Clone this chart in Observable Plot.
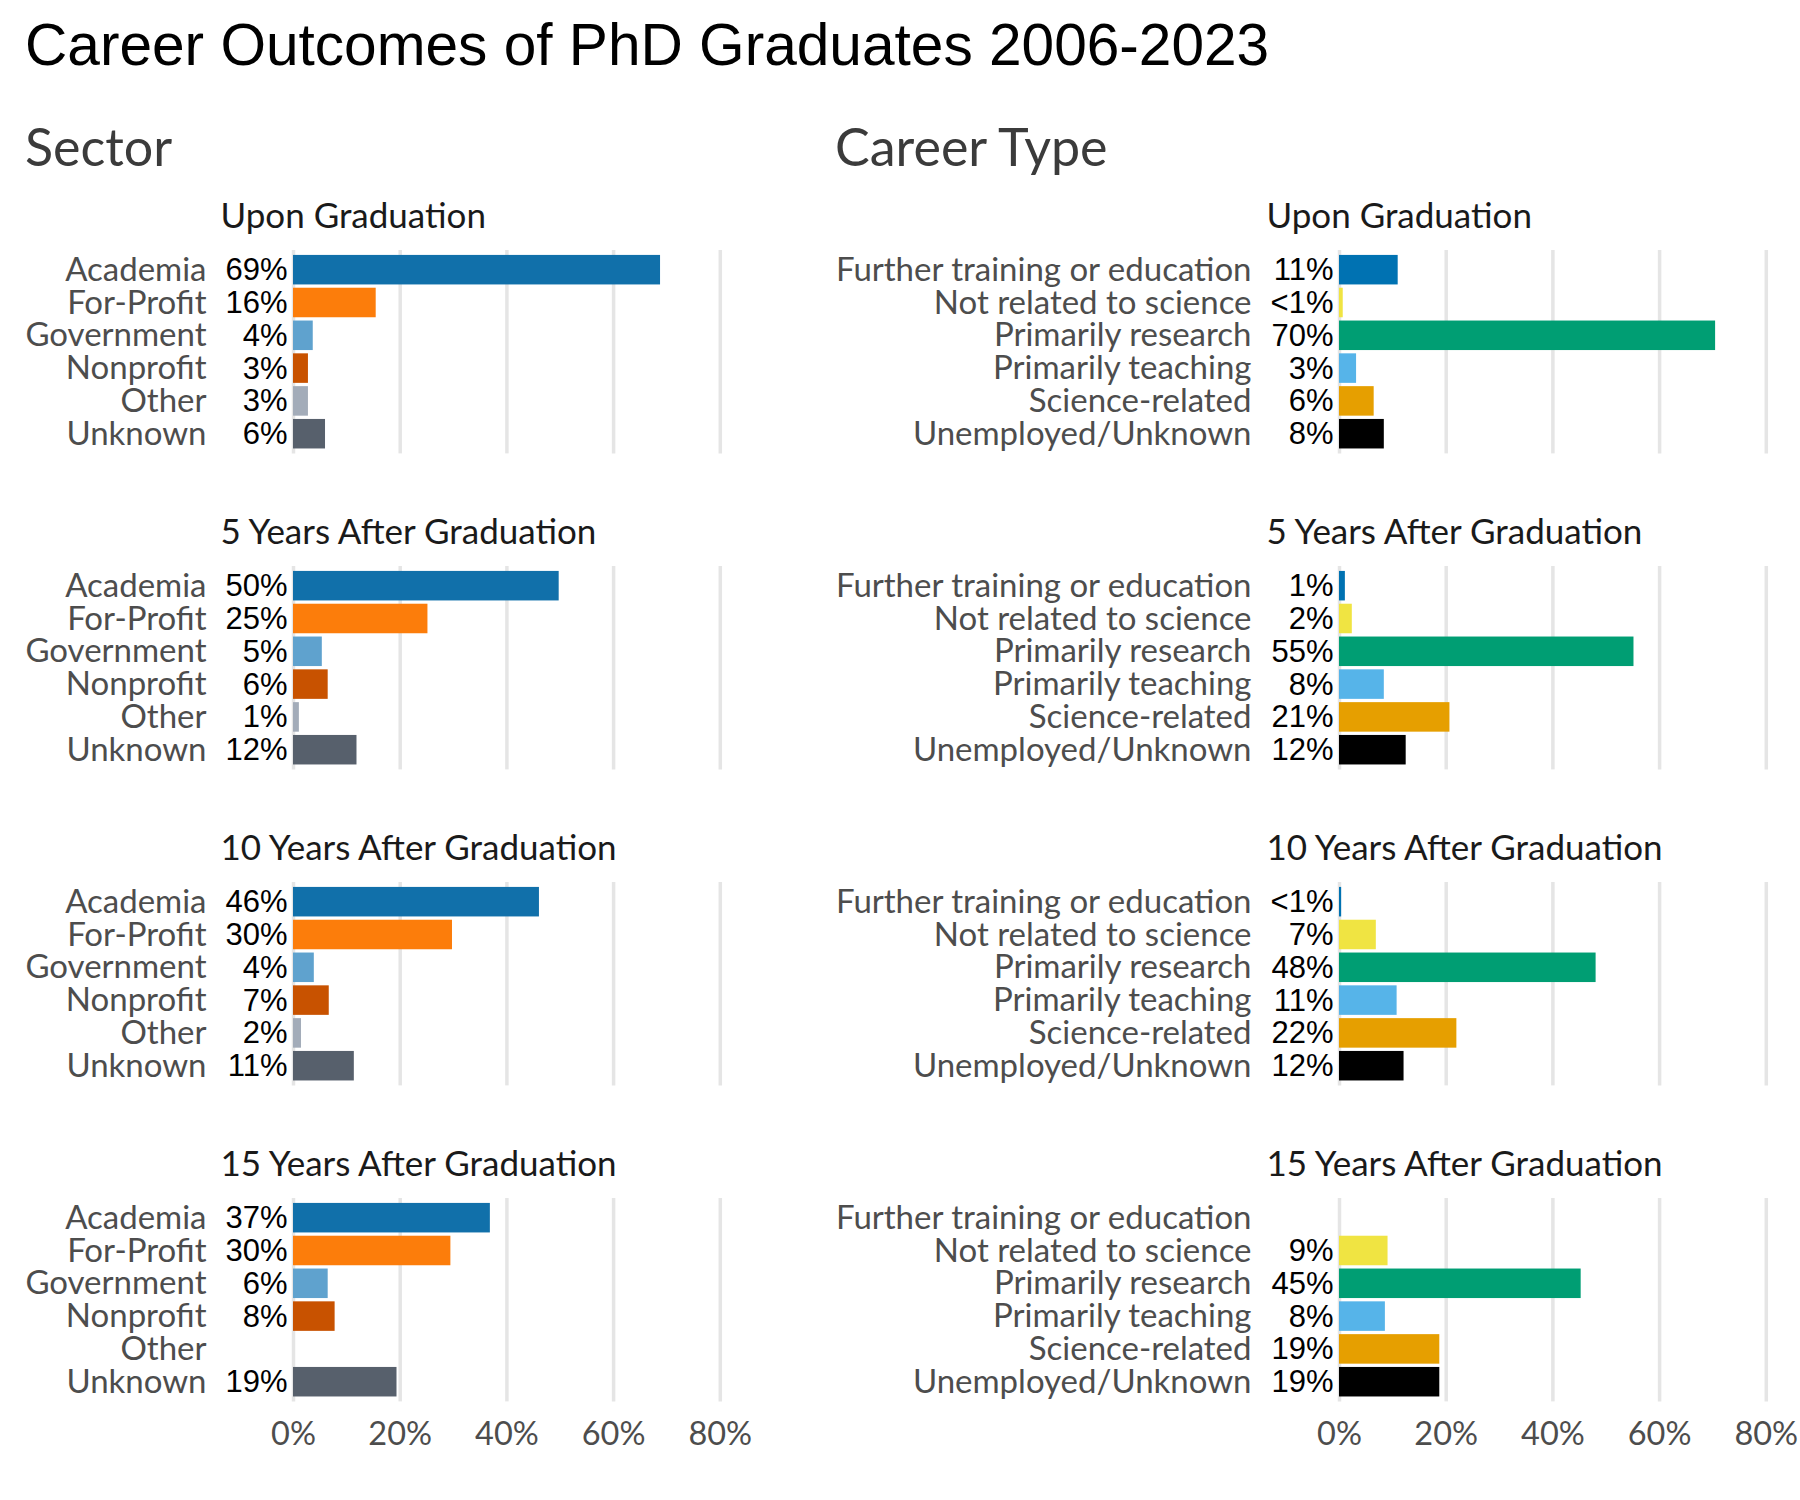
<!DOCTYPE html>
<html>
<head>
<meta charset="utf-8">
<script src="https://cdn.jsdelivr.net/npm/d3@7"></script>
<script src="https://cdn.jsdelivr.net/npm/@observablehq/plot@0.6"></script>
<style>
  html, body { margin: 0; padding: 0; background: #ffffff; }
  #page { position: relative; width: 1800px; height: 1500px; background: #ffffff; overflow: hidden; }
  .abs { position: absolute; white-space: nowrap; line-height: 1; }
  #title { font-family: "Liberation Sans", Arial, sans-serif; font-size: 58.6px; color: #000; }
  .section { font-family: "Lato", sans-serif; font-size: 52px; color: #3b3b3b; }
  .panel { position: absolute; }
</style>
</head>
<body>
<div id="page">
  <div id="title" class="abs" style="left:25px; top:16.4px;">Career Outcomes of PhD Graduates 2006-2023</div>
  <div class="abs section" style="left:25px; top:119.5px;">Sector</div>
  <div class="abs section" style="left:835px; top:119.5px;">Career Type</div>
</div>
<script>
// ---------- data ----------
const periods = ["Upon Graduation", "5 Years After Graduation", "10 Years After Graduation", "15 Years After Graduation"];

const sectorCategories = ["Academia", "For-Profit", "Government", "Nonprofit", "Other", "Unknown"];
const sectorColors = ["#1170aa", "#fc7d0b", "#5fa2ce", "#c85200", "#a3acb9", "#57606c"];
const sectorUpon = [68.8, 15.5, 3.7, 2.8, 2.8, 6.0];
const sectorUponLabels = ["69%", "16%", "4%", "3%", "3%", "6%"];
const sector5 = [49.8, 25.2, 5.4, 6.5, 1.1, 11.9];
const sector5Labels = ["50%", "25%", "5%", "6%", "1%", "12%"];
const sector10 = [46.1, 29.8, 3.9, 6.7, 1.5, 11.4];
const sector10Labels = ["46%", "30%", "4%", "7%", "2%", "11%"];
const sector15 = [36.9, 29.5, 6.5, 7.8, null, 19.4];
const sector15Labels = ["37%", "30%", "6%", "8%", "", "19%"];

const careerCategories = ["Further training or education", "Not related to science", "Primarily research", "Primarily teaching", "Science-related", "Unemployed/Unknown"];
const careerColors = ["#0072b2", "#f0e442", "#009e73", "#56b4e9", "#e69f00", "#000000"];
const careerUpon = [11.0, 0.7, 70.5, 3.2, 6.5, 8.4];
const careerUponLabels = ["11%", "<1%", "70%", "3%", "6%", "8%"];
const career5 = [1.1, 2.4, 55.2, 8.4, 20.7, 12.5];
const career5Labels = ["1%", "2%", "55%", "8%", "21%", "12%"];
const career10 = [0.4, 6.9, 48.1, 10.8, 22.0, 12.1];
const career10Labels = ["<1%", "7%", "48%", "11%", "22%", "12%"];
const career15 = [null, 9.1, 45.3, 8.6, 18.8, 18.8];
const career15Labels = ["", "9%", "45%", "8%", "19%", "19%"];

const xTicks = [0, 20, 40, 60, 80];

// ---------- layout ----------
const panelW = 900;
const plotH = 203.4;
const mTop = 60;
const firstPanelTop = 250.3;
const rowStep = 316;
const xSpan = 426.8;

const columns = [
  {left: 0, marginLeft: 293, pad: 87, cats: sectorCategories, colors: sectorColors,
   values: [sectorUpon, sector5, sector10, sector15],
   labels: [sectorUponLabels, sector5Labels, sector10Labels, sector15Labels]},
  {left: 900, marginLeft: 439, pad: 88, cats: careerCategories, colors: careerColors,
   values: [careerUpon, career5, career10, career15],
   labels: [careerUponLabels, career5Labels, career10Labels, career15Labels]}
];

const page = document.getElementById("page");

columns.forEach(col => {
  periods.forEach((period, i) => {
    const isLast = i === periods.length - 1;
    const mBottom = isLast ? 70 : 10;
    const rows = col.cats.map((c, j) => ({cat: c, value: col.values[i][j], label: col.labels[i][j]}));
    const present = rows.filter(d => d.value != null);
    const chart = Plot.plot({
      width: panelW,
      height: mTop + plotH + mBottom,
      marginTop: mTop,
      marginBottom: mBottom,
      marginLeft: col.marginLeft,
      marginRight: panelW - col.marginLeft - xSpan,
      style: {fontFamily: "Lato, sans-serif", fontSize: "33px", color: "#4d4d4d", background: "transparent", overflow: "visible"},
      x: {domain: [0, 80], axis: isLast ? "bottom" : null, ticks: xTicks, tickSize: 0, tickPadding: 20,
          tickFormat: d => d + "%", label: null, fontSize: 32.5},
      y: {domain: col.cats, axis: "left", tickSize: 0, tickPadding: col.pad, label: null,
          paddingInner: 0.1, paddingOuter: 0.15, round: false},
      color: {domain: col.cats, range: col.colors},
      marks: [
        Plot.ruleX(xTicks, {stroke: "#e5e5e5", strokeWidth: 3.5}),
        Plot.barX(present, {x: "value", y: "cat", fill: "cat"}),
        Plot.text(present, {x: 0, y: "cat", text: "label", textAnchor: "end", dx: -6,
          fontFamily: "Liberation Sans, Arial, sans-serif", fontSize: 31, fill: "#000000"}),
        Plot.text([period], {frameAnchor: "top-left", text: d => d, dx: -73, dy: -22.5,
          lineAnchor: "bottom", textAnchor: "start", fontSize: 35, fill: "#1a1a1a"})
      ]
    });
    chart.classList.add("panel");
    chart.style.left = col.left + "px";
    chart.style.top = (firstPanelTop + rowStep * i - mTop) + "px";
    page.appendChild(chart);
    if (isLast) {
      chart.querySelectorAll('[aria-label="x-axis tick label"] text, [aria-label="x-axis"] text')
        .forEach(t => t.setAttribute("font-size", "32.5"));
    }
  });
});
</script>
</body>
</html>
